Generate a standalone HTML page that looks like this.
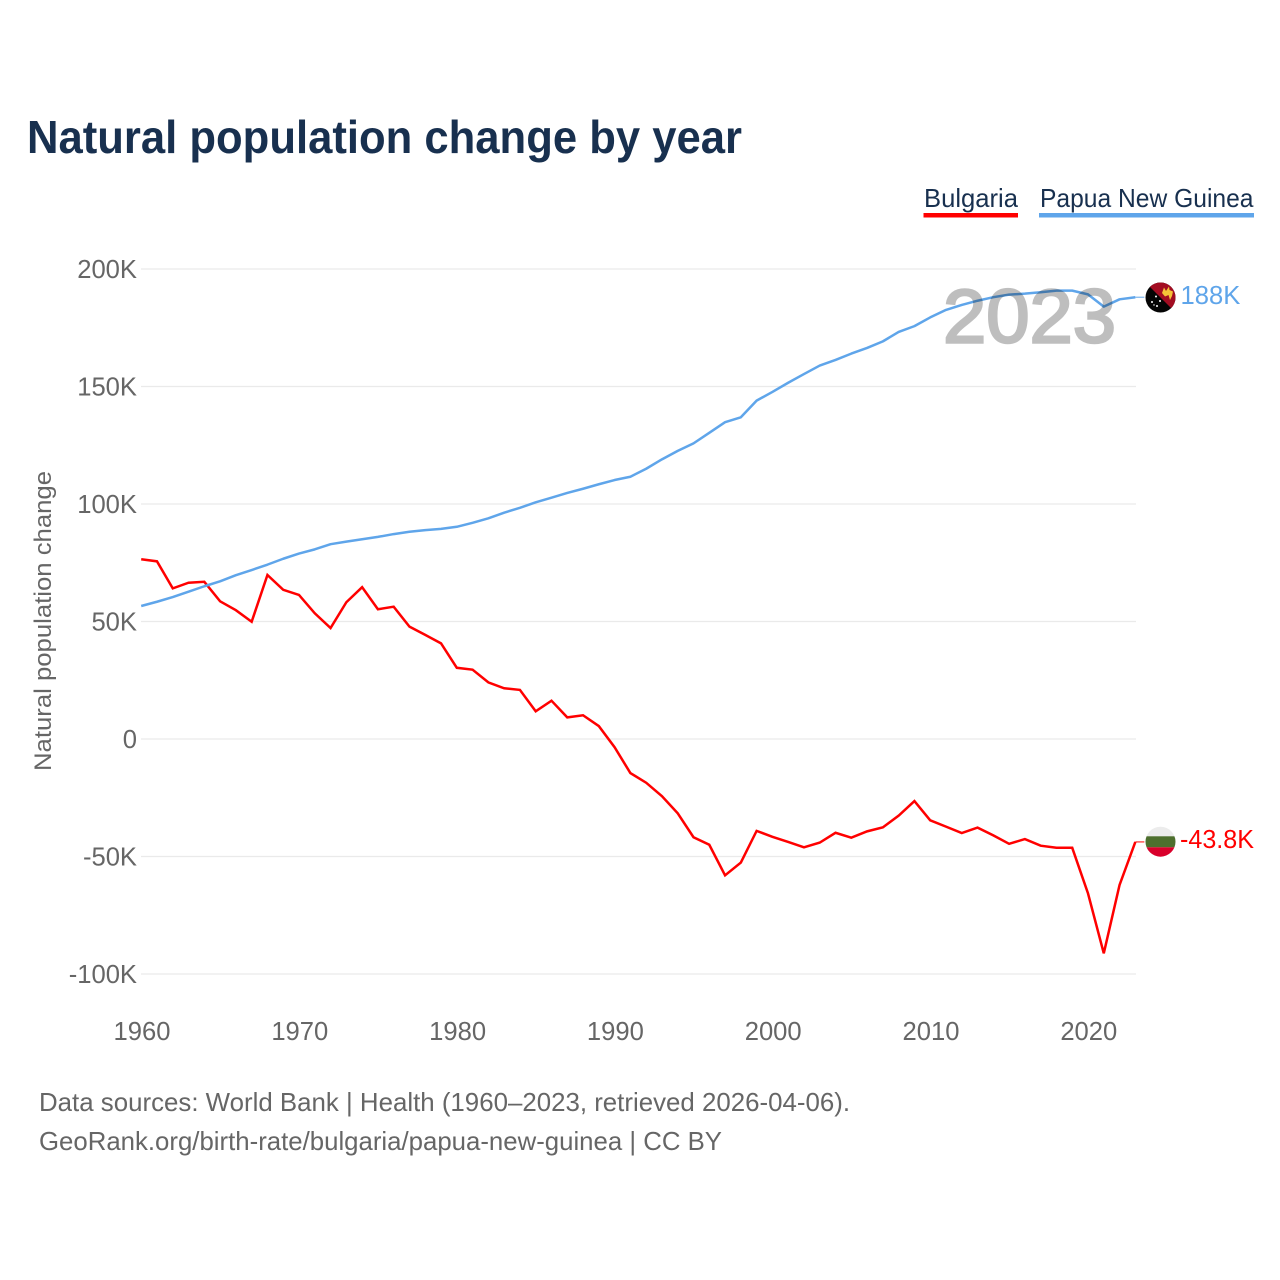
<!DOCTYPE html>
<html lang="en">
<head>
<meta charset="utf-8">
<title>Natural population change by year</title>
<style>
  html, body { margin: 0; padding: 0; background: #fff; }
  svg { display: block; font-family: "Liberation Sans", sans-serif; }
</style>
</head>
<body>
<svg id="chart" xmlns="http://www.w3.org/2000/svg" width="1280" height="1280" viewBox="0 0 1280 1280">
  <defs>
    <clipPath id="flag-clip-png"><circle cx="1160.5" cy="297.5" r="15"></circle></clipPath>
    <clipPath id="flag-clip-bg"><circle cx="1160.5" cy="841.7" r="15"></circle></clipPath>
  </defs>
  <rect x="0" y="0" width="1280" height="1280" fill="#ffffff"></rect>

  <text x="27" y="153" font-size="46" font-weight="700" fill="#18304f" textLength="715" lengthAdjust="spacingAndGlyphs">Natural population change by year</text>

  <g>
    <text x="924" y="207" font-size="26" fill="#18304f" textLength="94" lengthAdjust="spacingAndGlyphs">Bulgaria</text>
    <rect x="923.5" y="213" width="94.5" height="4.5" fill="#ff0000"></rect>
  </g>
  <g>
    <text x="1040" y="207" font-size="26" fill="#18304f" textLength="213.500" lengthAdjust="spacingAndGlyphs">Papua New Guinea</text>
    <rect x="1039" y="213" width="215" height="4.5" fill="#5fa5ea"></rect>
  </g>

  <text transform="translate(51 621) rotate(-90)" text-anchor="middle" font-size="24" fill="#666666" textLength="300" lengthAdjust="spacingAndGlyphs">Natural population change</text>

  <g id="grid-layer"></g>
  <g id="y-tick-layer"></g>
  <g id="x-tick-layer"></g>
  <g id="series-layer"></g>

  <text x="1029.5" y="342.5" text-anchor="middle" font-size="76" font-weight="400" fill="#000000" stroke="#000000" stroke-width="2.5" opacity="0.25" textLength="173" lengthAdjust="spacingAndGlyphs">2023</text>

  <g id="flag-png" clip-path="url(#flag-clip-png)">
    <rect x="1145" y="282" width="31" height="31" fill="#050505"></rect>
    <polygon points="1145,282 1176,282 1176,313" fill="#a30d22"></polygon>
    <polygon points="1162,293 1164,287.500 1166,291 1169,286.500 1169.500,290 1173,291.500 1172,296 1170,300 1168.500,295 1165,296.500" fill="#f5c338"></polygon>
    <circle cx="1152" cy="302" r="1" fill="#ffffff"></circle>
    <circle cx="1156" cy="296.500" r="1" fill="#ffffff"></circle>
    <circle cx="1160" cy="301" r="1" fill="#ffffff"></circle>
    <circle cx="1157" cy="306" r="1" fill="#ffffff"></circle>
    <circle cx="1154" cy="305" r="0.7" fill="#ffffff"></circle>
  </g>
  <text id="label-png" x="1180.5" y="304" font-size="25.6" fill="#5fa5ea">188K</text>

  <g id="flag-bg" clip-path="url(#flag-clip-bg)">
    <rect x="1145" y="826" width="31" height="10.500" fill="#ececec"></rect>
    <rect x="1145" y="836.300" width="31" height="11" fill="#4d6f2e"></rect>
    <rect x="1145" y="847.300" width="31" height="10.500" fill="#d9002b"></rect>
  </g>
  <text id="label-bg" x="1180" y="848" font-size="25.6" fill="#ff0000" textLength="74" lengthAdjust="spacingAndGlyphs">-43.8K</text>

  <text x="39" y="1111" font-size="26" fill="#666666" textLength="811" lengthAdjust="spacingAndGlyphs">Data sources: World Bank | Health (1960–2023, retrieved 2026-04-06).</text>
  <text x="39" y="1150" font-size="26" fill="#666666" textLength="683" lengthAdjust="spacingAndGlyphs">GeoRank.org/birth-rate/bulgaria/papua-new-guinea | CC BY</text>
</svg>

<script>
const years = [1960,1961,1962,1963,1964,1965,1966,1967,1968,1969,1970,1971,1972,1973,1974,1975,1976,1977,1978,1979,1980,1981,1982,1983,1984,1985,1986,1987,1988,1989,1990,1991,1992,1993,1994,1995,1996,1997,1998,1999,2000,2001,2002,2003,2004,2005,2006,2007,2008,2009,2010,2011,2012,2013,2014,2015,2016,2017,2018,2019,2020,2021,2022,2023];
const bulgaria = [76.5,75.6,64.1,66.5,66.9,58.6,54.8,49.9,69.8,63.5,61.3,53.5,47.2,58.2,64.6,55.2,56.3,47.8,44.3,40.7,30.3,29.5,24.1,21.6,20.9,11.8,16.3,9.2,10.1,5.5,-3.5,-14.5,-18.6,-24.3,-31.6,-41.8,-45.0,-58.0,-52.6,-39.1,-41.6,-43.8,-46.1,-44.1,-39.9,-42.0,-39.3,-37.6,-32.6,-26.4,-34.6,-37.3,-40.0,-37.7,-41.0,-44.6,-42.6,-45.4,-46.3,-46.3,-65.7,-91.2,-62.1,-43.8];
const papuaNewGuinea = [56.6,58.4,60.4,62.7,65.0,67.1,69.7,71.9,74.2,76.7,78.9,80.7,82.9,84.0,85.0,86.0,87.2,88.2,88.9,89.4,90.3,92.0,93.9,96.3,98.4,100.7,102.7,104.7,106.5,108.4,110.2,111.6,115.0,119.0,122.6,125.8,130.3,134.8,136.9,144.0,147.7,151.6,155.3,158.9,161.3,164.0,166.4,169.2,173.2,175.7,179.4,182.6,184.7,186.5,188.0,189.1,189.5,190.1,190.8,190.8,189.2,184.0,187.1,188.0];
const yTickValues = [200,150,100,50,0,-50,-100];
const yTickLabels = ["200K","150K","100K","50K","0","-50K","-100K"];
const xTickValues = [1960,1970,1980,1990,2000,2010,2020];

const SVG_NS = "http://www.w3.org/2000/svg";
function xScale(year) { return 141.2 + (year - 1960) * 15.78; }
function yScale(value) { return 739 - value * 2.35; }
function make(tag, attrs, parent) {
  const el = document.createElementNS(SVG_NS, tag);
  for (const key in attrs) { el.setAttribute(key, attrs[key]); }
  parent.appendChild(el);
  return el;
}

const gridLayer = document.getElementById("grid-layer");
const yTickLayer = document.getElementById("y-tick-layer");
const xTickLayer = document.getElementById("x-tick-layer");
const seriesLayer = document.getElementById("series-layer");

yTickValues.forEach(function (value, i) {
  const gridLine = make("line", { x1: 141, x2: 1136, y1: yScale(value), y2: yScale(value), stroke: "#eaeaea", "stroke-width": 1.3 }, gridLayer);
  
  
  const label = make("text", { x: 137, y: yScale(value) + 9, "text-anchor": "end", "font-size": 25.6, fill: "#666666" }, yTickLayer);
  label.textContent = yTickLabels[i];
  
  
});

xTickValues.forEach(function (year) {
  const label = make("text", { x: xScale(year) + 0.8, y: 1040, "text-anchor": "middle", "font-size": 25.6, fill: "#666666" }, xTickLayer);
  label.textContent = String(year);
  
  
});

function linePoints(values) {
  return values.map(function (value, i) {
    return xScale(years[i]).toFixed(2) + "," + yScale(value).toFixed(2);
  }).join(" ");
}

const bulgariaLine = make("polyline", { points: linePoints(bulgaria), fill: "none", stroke: "#ff0000", "stroke-width": 2.5, "stroke-linejoin": "miter" }, seriesLayer);



const papuaLine = make("polyline", { points: linePoints(papuaNewGuinea), fill: "none", stroke: "#5fa5ea", "stroke-width": 2.5, "stroke-linejoin": "round" }, seriesLayer);



const lastX = xScale(years[years.length - 1]);
const bulgariaLast = yScale(bulgaria[bulgaria.length - 1]);
const papuaLast = yScale(papuaNewGuinea[papuaNewGuinea.length - 1]);

const bulgariaStub = make("line", { x1: lastX, x2: lastX + 9, y1: bulgariaLast, y2: bulgariaLast, stroke: "#ff0000", "stroke-width": 1 }, seriesLayer);



const papuaStub = make("line", { x1: lastX, x2: lastX + 9, y1: papuaLast, y2: papuaLast, stroke: "#5fa5ea", "stroke-width": 1 }, seriesLayer);


</script>
</body>
</html>
